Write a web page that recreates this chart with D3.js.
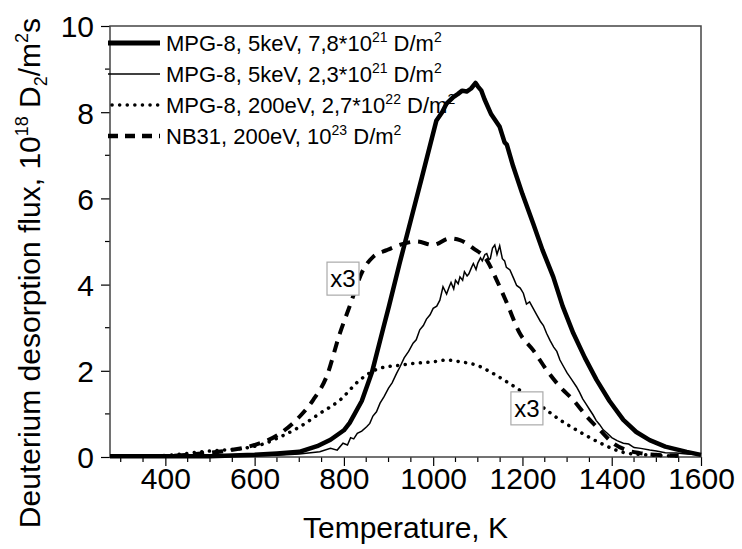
<!DOCTYPE html>
<html>
<head>
<meta charset="utf-8">
<script src="https://cdn.jsdelivr.net/npm/d3@7"></script>
<style>
  body { margin: 0; background: #fff; }
  text { font-family: "Liberation Sans", Arial, sans-serif; fill: #000; }
</style>
</head>
<body>
<svg id="chart" width="742" height="549"></svg>
<script>
// MPG-8, 5keV, 7.8e21 (thick solid)
let thickT = [276, 400, 500, 600, 650, 700, 740, 770, 800, 813, 840, 863, 888, 901, 925, 950, 975, 1007, 1020, 1030, 1045, 1055, 1065, 1075, 1085, 1095, 1100, 1108, 1115, 1130, 1149, 1160, 1165, 1179, 1200, 1224, 1245, 1269, 1290, 1314, 1340, 1366, 1395, 1426, 1455, 1485, 1520, 1568, 1600];
let thickV = [0.02, 0.02, 0.02, 0.05, 0.08, 0.12, 0.25, 0.4, 0.62, 0.79, 1.3, 1.97, 2.98, 3.5, 4.5, 5.5, 6.5, 7.8, 8.0, 8.2, 8.35, 8.42, 8.5, 8.48, 8.55, 8.68, 8.6, 8.5, 8.3, 7.95, 7.66, 7.3, 7.25, 6.75, 6.1, 5.42, 4.8, 4.18, 3.5, 2.87, 2.3, 1.79, 1.3, 0.86, 0.58, 0.39, 0.24, 0.12, 0.05];

// MPG-8, 5keV, 2.3e21 (thin solid, noisy)
let thinT = [276, 450, 550, 650, 700, 746, 770, 785, 798, 808, 815, 822, 830, 840, 851, 858, 865, 873, 881, 890, 900, 908, 918, 926, 935, 945, 955, 962, 970, 978, 985, 993, 1000, 1008, 1015, 1022, 1030, 1036, 1040, 1046, 1050, 1056, 1060, 1066, 1070, 1076, 1080, 1086, 1090, 1096, 1100, 1106, 1110, 1116, 1120, 1125, 1128, 1133, 1138, 1143, 1149, 1155, 1160, 1164, 1172, 1180, 1187, 1195, 1202, 1209, 1216, 1224, 1232, 1240, 1247, 1254, 1262, 1270, 1277, 1284, 1292, 1300, 1310, 1321, 1328, 1335, 1343, 1351, 1358, 1365, 1373, 1381, 1390, 1400, 1412, 1426, 1438, 1450, 1465, 1485, 1500, 1520, 1545, 1568, 1600];
let thinV = [0.0, 0.01, 0.02, 0.04, 0.07, 0.12, 0.2, 0.16, 0.32, 0.28, 0.45, 0.42, 0.55, 0.6, 0.7, 0.78, 0.95, 1.05, 1.25, 1.4, 1.6, 1.72, 1.94, 2.1, 2.3, 2.45, 2.64, 2.72, 2.95, 3.05, 3.2, 3.3, 3.45, 3.5, 3.64, 3.95, 3.78, 3.95, 4.05, 3.9, 4.1, 4.02, 4.18, 4.1, 4.3, 4.2, 4.25, 4.4, 4.49, 4.35, 4.5, 4.62, 4.55, 4.7, 4.72, 4.58, 4.6, 4.85, 4.92, 4.7, 4.9, 4.6, 4.55, 4.4, 4.34, 4.15, 3.98, 3.92, 3.8, 3.55, 3.6, 3.45, 3.3, 3.15, 3.05, 2.87, 2.7, 2.55, 2.45, 2.25, 2.1, 1.95, 1.8, 1.63, 1.5, 1.35, 1.22, 1.09, 0.98, 0.85, 0.75, 0.63, 0.55, 0.45, 0.38, 0.32, 0.3, 0.22, 0.2, 0.16, 0.14, 0.1, 0.09, 0.07, 0.05];

// MPG-8, 200eV, 2.7e22 (dotted, x3)
let dotT = [380, 448, 478, 530, 574, 619, 660, 701, 746, 791, 836, 881, 925, 955, 1000, 1030, 1060, 1097, 1134, 1164, 1194, 1224, 1254, 1284, 1314, 1344, 1373, 1400, 1433, 1478, 1520, 1560];
let dotV = [0.02, 0.08, 0.12, 0.16, 0.2, 0.3, 0.48, 0.7, 1.01, 1.32, 1.79, 2.06, 2.13, 2.17, 2.21, 2.25, 2.21, 2.13, 1.94, 1.75, 1.55, 1.32, 1.09, 0.86, 0.67, 0.49, 0.33, 0.2, 0.09, 0.05, 0.03, 0.02];

// NB31, 200eV, 1e23 (dashed, x3)
let dashT = [420, 480, 540, 600, 650, 701, 731, 761, 791, 813, 843, 866, 896, 925, 963, 1000, 1037, 1060, 1090, 1120, 1142, 1164, 1194, 1224, 1254, 1284, 1314, 1344, 1373, 1403, 1433, 1463, 1500, 1550];
let dashV = [0.03, 0.08, 0.15, 0.28, 0.5, 0.94, 1.32, 1.86, 2.87, 3.5, 4.34, 4.65, 4.8, 4.92, 5.0, 4.92, 5.07, 5.03, 4.84, 4.57, 4.11, 3.6, 2.87, 2.48, 2.02, 1.63, 1.32, 0.94, 0.63, 0.32, 0.16, 0.09, 0.05, 0.03];

let xTicks = [400, 600, 800, 1000, 1200, 1400, 1600];
let yTicks = [0, 2, 4, 6, 8, 10];

let svg = d3.select("#chart"),
    margin = {top: 26, right: 41, bottom: 92, left: 110},
    width = 742 - margin.left - margin.right,
    height = 549 - margin.top - margin.bottom,
    g = svg.append("g").attr("transform", "translate(" + margin.left + "," + margin.top + ")");

let x = d3.scaleLinear().domain([276, 1600]).range([0, width]);
let y = d3.scaleLinear().domain([0, 10]).range([height, 0]);

// minor ticks
let xMinor = d3.range(300, 1601, 50).filter(v => v % 200 !== 0);
let yMinor = d3.range(1, 10, 2);

g.selectAll(".xminor").data(xMinor).enter().append("line")
    .attr("x1", d => x(d)).attr("x2", d => x(d))
    .attr("y1", height).attr("y2", height + 5)
    .attr("stroke", "#000").attr("stroke-width", 1.2);
g.selectAll(".yminor").data(yMinor).enter().append("line")
    .attr("x1", -5).attr("x2", 0)
    .attr("y1", d => y(d)).attr("y2", d => y(d))
    .attr("stroke", "#000").attr("stroke-width", 1.2);

let xAxis = g.append("g").attr("transform", "translate(0," + height + ")")
    .call(d3.axisBottom(x).tickValues(xTicks).tickSize(9).tickSizeOuter(0).tickFormat(d3.format("d")));
let yAxis = g.append("g")
    .call(d3.axisLeft(y).tickValues(yTicks).tickSize(9).tickSizeOuter(0));

[xAxis, yAxis].forEach(a => {
    a.select(".domain").remove();
    a.selectAll(".tick line").attr("stroke-width", 1.2);
    a.selectAll(".tick text").style("font-size", "30px").style("font-family", "Liberation Sans, Arial, sans-serif");
});
xAxis.selectAll(".tick text").attr("dy", 0).attr("y", 32);
yAxis.selectAll(".tick text").attr("x", -16).attr("dy", "0.36em");

// frame
g.append("rect").attr("width", width).attr("height", height)
    .attr("fill", "none").attr("stroke", "#444").attr("stroke-width", 1.5);

// curves
let line = d3.line().x(d => x(d[0])).y(d => y(d[1]));
let smooth = d3.line().x(d => x(d[0])).y(d => y(d[1])).curve(d3.curveMonotoneX);

const zip = (a, b) => a.map((v, i) => [v, b[i]]);

g.append("path").datum(zip(dotT, dotV)).attr("d", smooth)
    .attr("fill", "none").attr("stroke", "#000").attr("stroke-width", 3.5)
    .attr("stroke-linecap", "round").attr("stroke-dasharray", "0.1 7.5");
g.append("path").datum(zip(dashT, dashV)).attr("d", smooth)
    .attr("fill", "none").attr("stroke", "#000").attr("stroke-width", 4)
    .attr("stroke-dasharray", "11 8");
g.append("path").datum(zip(thinT, thinV)).attr("d", line)
    .attr("fill", "none").attr("stroke", "#000").attr("stroke-width", 1.5);
g.append("path").datum(zip(thickT, thickV)).attr("d", line)
    .attr("fill", "none").attr("stroke", "#000").attr("stroke-width", 4.5)
    .attr("stroke-linejoin", "round");

// legend
let legend = [
    {name: "MPG-8, 5keV, 7,8*10", exp: "21", w: 5, dash: null, cap: "butt"},
    {name: "MPG-8, 5keV, 2,3*10", exp: "21", w: 1.5, dash: null, cap: "butt"},
    {name: "MPG-8, 200eV, 2,7*10", exp: "22", w: 3.5, dash: "0.1 7.5", cap: "round"},
    {name: "NB31, 200eV, 10", exp: "23", w: 4.5, dash: "10 7", cap: "butt"}
];
let lg = svg.append("g");
legend.forEach((d, i) => {
    let yy = 43 + i * 31;
    lg.append("line").attr("x1", i === 2 ? 112 : 108).attr("x2", 160).attr("y1", yy).attr("y2", yy)
        .attr("stroke", "#000").attr("stroke-width", d.w)
        .attr("stroke-dasharray", d.dash).attr("stroke-linecap", d.cap);
    let t = lg.append("text").attr("x", 166).attr("y", yy + 8).style("font-size", "22px");
    t.append("tspan").text(d.name);
    t.append("tspan").text(d.exp).attr("dy", -9).style("font-size", "14px");
    t.append("tspan").text(" D/m").attr("dy", 9);
    t.append("tspan").text("2").attr("dy", -9).style("font-size", "14px");
});

// x3 labels
let notes = [{T: 798, v: 4.15}, {T: 1210, v: 1.14}];
notes.forEach(n => {
    let cx = margin.left + x(n.T), cy = margin.top + y(n.v);
    svg.append("rect").attr("x", cx - 16).attr("y", cy - 16).attr("width", 32).attr("height", 33)
        .attr("fill", "#fff").attr("stroke", "#aaa").attr("stroke-width", 1.2);
    svg.append("text").attr("x", cx).attr("y", cy + 9).attr("text-anchor", "middle")
        .style("font-size", "24px").text("x3");
});

// axis titles
svg.append("text").attr("x", margin.left + width / 2).attr("y", 538)
    .attr("text-anchor", "middle").style("font-size", "30px").text("Temperature, K");

let yt = svg.append("text").attr("transform", "translate(40," + 273 + ") rotate(-90)")
    .attr("text-anchor", "middle").style("font-size", "30px");
yt.append("tspan").text("Deuterium desorption flux, 10");
yt.append("tspan").text("18").attr("dy", -12).style("font-size", "18px");
yt.append("tspan").text(" D").attr("dy", 12);
yt.append("tspan").text("2").attr("dy", 7).style("font-size", "18px");
yt.append("tspan").text("/m").attr("dy", -7);
yt.append("tspan").text("2").attr("dy", -12).style("font-size", "18px");
yt.append("tspan").text("s").attr("dy", 12);
</script>
</body>
</html>
